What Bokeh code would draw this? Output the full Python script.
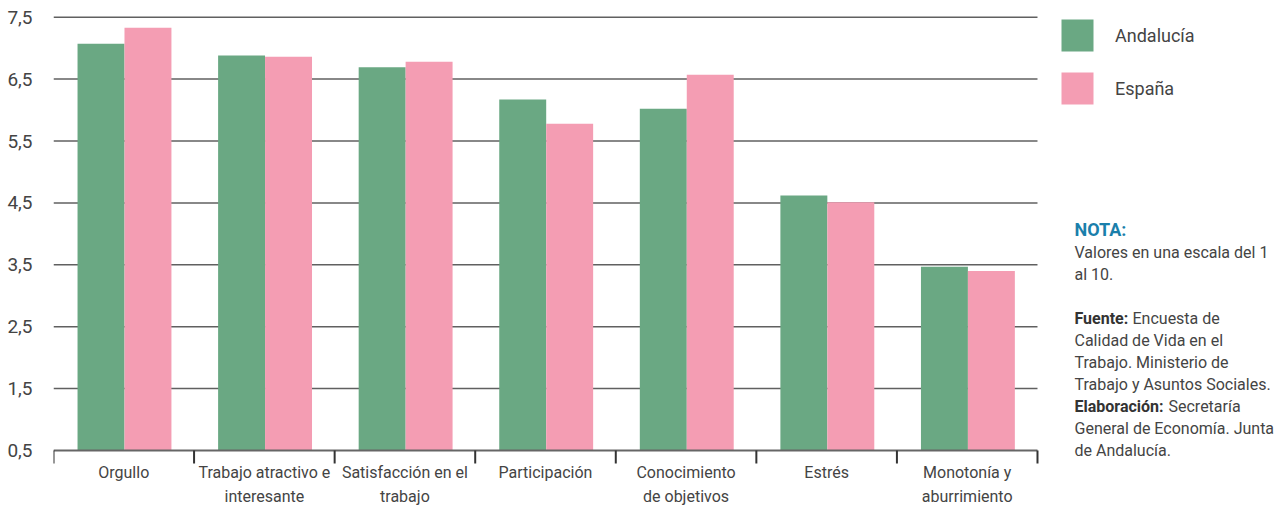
from bokeh.plotting import figure
from bokeh.models import (Range1d, FixedTicker, Legend, LegendItem, Label, ColumnDataSource)
from bokeh.core.properties import value
from bokeh.embed import file_html
from bokeh.resources import INLINE

# ---- data ----
categories = ["Orgullo", "Trabajo atractivo e\ninteresante", "Satisfacción en el\ntrabajo",
              "Participación", "Conocimiento\nde objetivos", "Estrés", "Monotonía y\naburrimiento"]
andalucia = [7.07, 6.88, 6.69, 6.17, 6.02, 4.62, 3.47]
espana = [7.33, 6.86, 6.78, 5.78, 6.57, 4.51, 3.40]
y_ticks = [0.5, 1.5, 2.5, 3.5, 4.5, 5.5, 6.5, 7.5]
y_tick_labels = ["0,5", "1,5", "2,5", "3,5", "4,5", "5,5", "6,5", "7,5"]
series_names = ["Andalucía", "España"]

GREEN = "#6aa883"
PINK = "#f49db3"
TEXT = "#444444"
FONT = "Roboto"

n = len(categories)
centers = [i + 0.5 for i in range(n)]
bounds = list(range(n + 1))
bar_w = 0.334
base = y_ticks[0]
top = y_ticks[-1]

# layout geometry (pixels)
W, H = 1278, 505
LEFT = 53
PX_X = 140.57          # pixels per category
PX_Y = 61.9            # pixels per unit
TOP_PAD = 16.7         # px above the top tick
x_end = n + (W - LEFT - n * PX_X) / PX_X
y_start = base - (H - TOP_PAD - (top - base) * PX_Y) / PX_Y
y_end = top + TOP_PAD / PX_Y

src = ColumnDataSource(dict(
    xg=[c - 0.162 for c in centers],
    xp=[c + 0.172 for c in centers],
    a=andalucia, e=espana,
))

p = figure(width=W, height=H, output_backend="svg", toolbar_location=None,
           x_range=Range1d(0, x_end), y_range=Range1d(y_start, y_end),
           min_border_left=LEFT, min_border_right=0, min_border_top=0, min_border_bottom=0,
           x_axis_location=None)
p.outline_line_color = None
p.background_fill_color = "white"
p.border_fill_color = "white"
p.xgrid.grid_line_color = None
p.ygrid.grid_line_color = None

# grid lines (only across the category area)
gy = y_ticks[1:]
p.segment(x0=[0] * len(gy), x1=[n] * len(gy), y0=gy, y1=gy, line_color="#606060", line_width=1.5)

rg = p.vbar(x="xg", top="a", bottom=base, width=bar_w, source=src, fill_color=GREEN, line_color=None)
rp = p.vbar(x="xp", top="e", bottom=base, width=bar_w, source=src, fill_color=PINK, line_color=None)

# x axis line and boundary ticks
p.segment(x0=[0], x1=[n], y0=[base], y1=[base], line_color="#666666", line_width=2)
tick_len = 13 / PX_Y
p.segment(x0=bounds, x1=bounds, y0=[base] * len(bounds), y1=[base - tick_len] * len(bounds),
          line_color="#333333", line_width=2)

# category labels
p.text(x=centers, y=[base] * n, text=categories, text_font=value(FONT), text_font_size="16px",
       text_color=TEXT, text_align="center", text_baseline="top", y_offset=12,
       text_line_height=1.3)

# y axis
ya = p.yaxis[0]
ya.ticker = FixedTicker(ticks=y_ticks)
ya.major_label_overrides = {t: l for t, l in zip(y_ticks, y_tick_labels)}
ya.axis_line_color = None
ya.major_tick_line_color = None
ya.minor_tick_line_color = None
ya.major_label_standoff = 15
ya.major_label_text_font = FONT
ya.major_label_text_font_size = "19px"
ya.major_label_text_color = TEXT

# legend (bar legend glyphs are inset by 10% on each side)
legend = Legend(items=[LegendItem(label=series_names[0], renderers=[rg]),
                       LegendItem(label=series_names[1], renderers=[rp])],
                location=(1004, 397), orientation="vertical",
                glyph_width=40, glyph_height=40, spacing=13, label_standoff=18,
                padding=0, margin=0, border_line_color=None, background_fill_alpha=0,
                label_text_font=FONT, label_text_font_size="18px", label_text_color=TEXT)
p.add_layout(legend)

# note text
NX = 1021
def lab(x, y, text, bold=False, color=TEXT, size="16px"):
    p.add_layout(Label(x=x, y=y, x_units="screen", y_units="screen", text=text,
                       text_font=FONT, text_font_size=size, text_color=color,
                       text_font_style="bold" if bold else "normal",
                       text_baseline="middle", text_align="left"))

lab(NX, 276, "NOTA:", bold=True, color="#1a7fab", size="18px")
lab(NX, 253, "Valores en una escala del 1")
lab(NX, 231, "al 10.")
lab(NX, 187, "Fuente:", bold=True, color="#333333")
lab(NX + 58, 187, "Encuesta de")
lab(NX, 165, "Calidad de Vida en el")
lab(NX, 143, "Trabajo. Ministerio de")
lab(NX, 121, "Trabajo y Asuntos Sociales.")
lab(NX, 99, "Elaboración:", bold=True, color="#333333")
lab(NX + 94, 99, "Secretaría")
lab(NX, 77, "General de Economía. Junta")
lab(NX, 55, "de Andalucía.")

open("out.html", "w").write(file_html(p, INLINE))
